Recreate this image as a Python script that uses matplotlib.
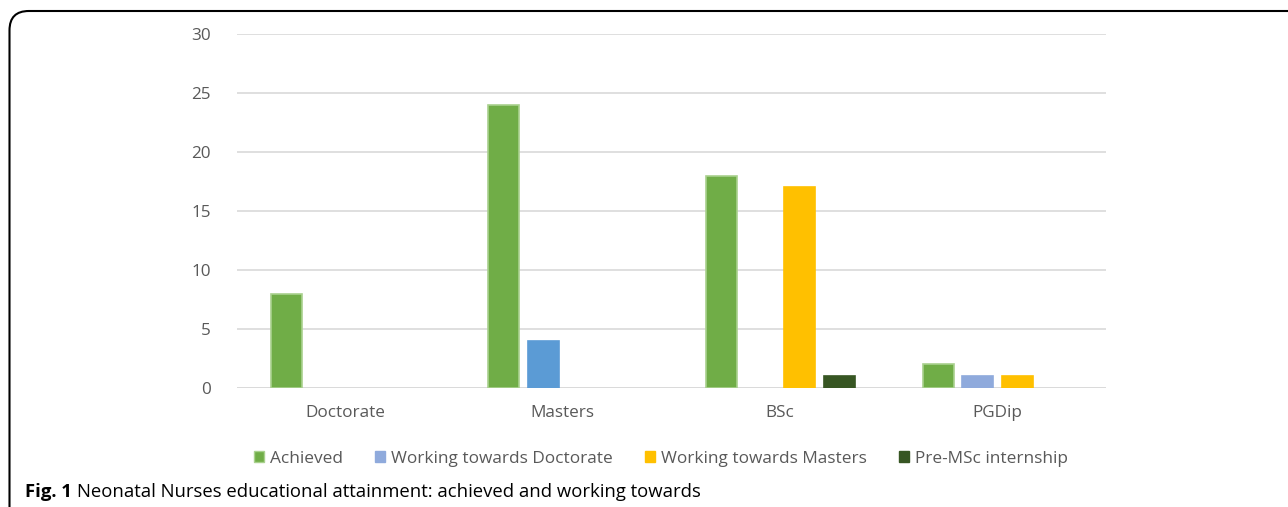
import matplotlib
matplotlib.use("Agg")
import matplotlib.pyplot as plt
import numpy as np
from matplotlib.patches import FancyBboxPatch, Patch

categories = ["Doctorate", "Masters", "BSc", "PGDip"]
series_names = ["Achieved", "Working towards Doctorate", "Working towards Masters", "Pre-MSc internship"]
achieved = [8, 24, 18, 2]
towards_doctorate = [0, 4, 0, 1]
towards_masters = [0, 0, 17, 1]
pre_msc = [0, 0, 1, 0]
yticks = [0, 5, 10, 15, 20, 25, 30]

series = [achieved, towards_doctorate, towards_masters, pre_msc]
colors = ["#70AD47", "#8FAADC", "#FFC000", "#375623"]
edges = ["#A9D18E", "#8FAADC", "#FFC000", "#375623"]

plt.rcParams['font.family'] = ['Open Sans', 'DejaVu Sans']
fig = plt.figure(figsize=(12.88, 5.07), dpi=100)
ax = fig.add_axes([237/1288, 1-388/507, (1106-237)/1288, (388-34)/507])

x = np.arange(len(categories))
step = 0.181
width = 0.143
for i, (vals, c, e) in enumerate(zip(series, colors, edges)):
    lws = [1.2 if v > 0 else 0 for v in vals]
    bars = ax.bar(x + (i - 1.5) * step, vals, width, color=c, edgecolor=e, linewidth=lws, zorder=3)
    if i == 1:
        bars[1].set_facecolor("#5B9BD5")
        bars[1].set_edgecolor("#5B9BD5")

ax.set_xlim(-0.5, 3.5)
ax.set_ylim(0, 30)
ax.set_yticks(yticks)
ax.set_xticks(x)
ax.set_xticklabels(categories)
ax.grid(axis='y', color='#D9D9D9', linewidth=1.2, zorder=0)
for s in ax.spines.values():
    s.set_visible(False)
ax.tick_params(length=0, labelsize=12.3, colors='#595959')
ax.tick_params(axis='y', pad=19)
ax.tick_params(axis='x', pad=12)
ax.axhline(0, color='#D9D9D9', linewidth=1.2, zorder=2)

handles = [Patch(facecolor=c, edgecolor=e, linewidth=1) for c, e in zip(colors, edges)]
fig.legend(handles, series_names, loc='center', bbox_to_anchor=(661/1288, 1-459/507), ncol=4,
           frameon=False, fontsize=12.4, labelcolor='#595959', handlelength=0.6, handleheight=0.6,
           handletextpad=0.35, columnspacing=1.85)

# border with rounded corner
border = FancyBboxPatch((9.5/1288, -0.1), 1.2, 1 - 11/507 + 0.1,
                        boxstyle="round,pad=0,rounding_size=0.015", transform=fig.transFigure,
                        fill=False, edgecolor='black', linewidth=1.5, mutation_aspect=1288/507)
fig.add_artist(border)

t1 = fig.text(25/1288, 1-492/507, "Fig. 1", fontsize=13.3, fontweight='bold', va='center', ha='left')
fig.canvas.draw()
bb = t1.get_window_extent(renderer=fig.canvas.get_renderer())
fig.text((bb.x1 + 5)/1288, 1-492/507, "Neonatal Nurses educational attainment: achieved and working towards",
         fontsize=13.3, va='center', ha='left')

fig.savefig("out.png", dpi=100)
